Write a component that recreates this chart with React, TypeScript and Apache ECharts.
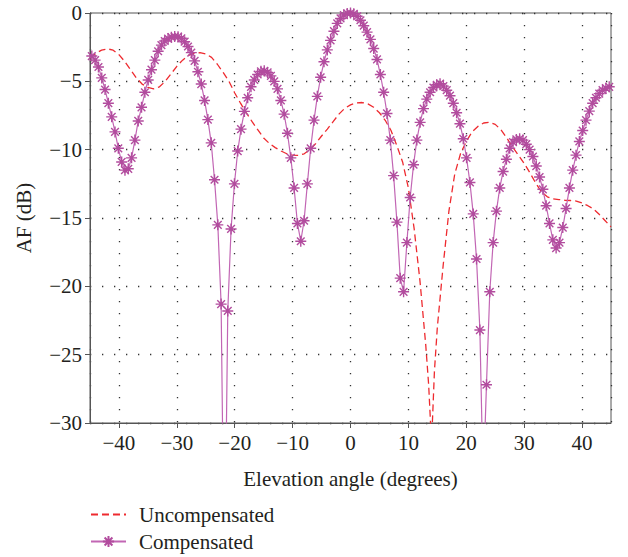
import React, { useEffect, useRef } from "react";
import * as echarts from "echarts";

// Sample angles (degrees) of the compensated pattern
const compAngles: number[] = [
  -44.69, -44.12, -43.54, -42.97, -42.40, -41.83, -41.25, -40.68, -40.11, -39.53,
  -38.96, -38.39, -37.82, -37.24, -36.67, -36.10, -35.52, -34.95, -34.38, -33.80,
  -33.23, -32.66, -32.09, -31.51, -30.94, -30.37, -29.79, -29.22, -28.65, -28.07,
  -27.50, -26.93, -26.36, -25.78, -25.21, -24.64, -24.06, -23.49, -22.92, -22.35,
  -21.77, -21.20, -20.63, -20.05, -19.48, -18.91, -18.33, -17.76, -17.19, -16.62,
  -16.04, -15.47, -14.90, -14.32, -13.75, -13.18, -12.61, -12.03, -11.46, -10.89,
  -10.31, -9.74, -9.17, -8.59, -8.02, -7.45, -6.88, -6.30, -5.73, -5.16,
  -4.58, -4.01, -3.44, -2.86, -2.29, -1.72, -1.15, -0.57,
  0,
  0.57, 1.15, 1.72, 2.29, 2.86, 3.44, 4.01, 4.58, 5.16, 5.73,
  6.30, 6.88, 7.45, 8.02, 8.59, 9.17, 9.74, 10.31, 10.89, 11.46,
  12.03, 12.61, 13.18, 13.75, 14.32, 14.90, 15.47, 16.04, 16.62, 17.19,
  17.76, 18.33, 18.91, 19.48, 20.05, 20.63, 21.20, 21.77, 22.35, 22.92,
  23.49, 24.06, 24.64, 25.21, 25.78, 26.36, 26.93, 27.50, 28.07, 28.65,
  29.22, 29.79, 30.37, 30.94, 31.51, 32.09, 32.66, 33.23, 33.80, 34.38,
  34.95, 35.52, 36.10, 36.67, 37.24, 37.82, 38.39, 38.96, 39.53, 40.11,
  40.68, 41.25, 41.83, 42.40, 42.97, 43.54, 44.12, 44.69,
];

// Compensated AF (dB)
const compDb: number[] = [
  -3.15, -3.45, -3.95, -4.75, -5.6, -6.6, -7.6, -8.7, -9.9, -10.9,
  -11.5, -11.4, -10.6, -9.3, -7.9, -6.9, -5.8, -4.9, -4.15, -3.45,
  -2.8, -2.35, -2.05, -1.87, -1.77, -1.72, -1.73, -1.85, -2.1, -2.45,
  -2.9, -3.5, -4.3, -5.2, -6.4, -7.8, -9.5, -12.2, -15.5, -21.3,
  -42.5, -21.8, -15.8, -12.5, -10.1, -8.5, -7.2, -6.2, -5.4, -4.9,
  -4.5, -4.27, -4.23, -4.35, -4.6, -5.0, -5.55, -6.4, -7.4, -8.8,
  -10.6, -12.8, -15.4, -16.7, -15.2, -12.5, -9.9, -7.84, -6.1, -4.7,
  -3.57, -2.7, -2.0, -1.33, -0.76, -0.4, -0.15, -0.03,
  0,
  -0.06, -0.24, -0.53, -0.93, -1.4, -1.93, -2.6, -3.4, -4.5, -5.8,
  -7.35, -9.3, -11.9, -15.3, -19.4, -20.4, -16.8, -13.5, -11.1, -9.3,
  -8.0, -7.0, -6.3, -5.8, -5.45, -5.25, -5.17, -5.35, -5.65, -6.05,
  -6.6, -7.3, -8.1, -9.2, -10.6, -12.4, -14.7, -18.0, -23.2, -34.5,
  -27.2, -20.4, -16.8, -14.5, -12.8, -11.6, -10.7, -9.9, -9.45, -9.25,
  -9.2, -9.3, -9.6, -10.0, -10.5, -11.2, -12.0, -12.9, -14.1, -15.4,
  -16.6, -17.2, -16.8, -15.7, -14.3, -12.8, -11.5, -10.4, -9.4, -8.6,
  -7.84, -7.18, -6.6, -6.2, -5.9, -5.65, -5.5, -5.4,
];

// Uncompensated pattern
const uncompAngles: number[] = [
  -45, -44, -43, -42, -41, -40, -39, -38, -37, -36,
  -35, -34, -33, -32, -31, -30, -29, -28, -27, -26,
  -25, -24, -23, -22, -21, -20, -19, -18, -17, -16,
  -15, -14, -13, -12, -11, -10, -9, -8, -7, -6,
  -5, -4, -3, -2, -1, 0, 1, 2, 3, 4,
  5, 6, 7, 8, 9, 10, 11, 12, 13, 13.5,
  14, 14.5, 15, 16, 17, 18, 19, 20, 21, 22,
  23, 24, 25, 26, 27, 28, 29, 30, 31, 32,
  33, 34, 35, 36, 37, 38, 39, 40, 41, 42,
  43, 44, 45,
];
const uncompDb: number[] = [
  -3.3, -2.95, -2.72, -2.62, -2.72, -3.05, -3.55, -4.15, -4.75, -5.2,
  -5.45, -5.55, -5.4, -5.0, -4.45, -3.9, -3.45, -3.1, -2.95, -2.9,
  -3.0, -3.25, -3.75, -4.35, -5.0, -5.85, -6.6, -7.3, -7.95, -8.55,
  -9.15, -9.55, -9.85, -10.1, -10.3, -10.4, -10.42, -10.3, -10.0, -9.55,
  -9.0, -8.5, -7.95, -7.4, -6.98, -6.72, -6.58, -6.55, -6.65, -6.9,
  -7.3, -7.85, -8.6, -9.7, -10.9, -12.8, -15.8, -19.6, -24.3, -27.2,
  -31.5, -26.2, -23.0, -18.5, -14.5, -11.8, -10.3, -9.4, -8.7, -8.3,
  -8.05, -8.0, -8.15, -8.55, -9.15, -9.8, -10.4, -11.0, -11.7, -12.45,
  -13.1, -13.45, -13.6, -13.65, -13.7, -13.72, -13.76, -13.9, -14.1, -14.35,
  -14.75, -15.2, -15.65,
];

const seriesNames = ["Uncompensated", "Compensated"];
const xAxisTitle = "Elevation angle (degrees)";
const yAxisTitle = "AF (dB)";

const FONT = "'Liberation Serif', 'Times New Roman', serif";
const TEXT = "#231f20";
const AXIS = "#555555";
const RED = "#ee2a2f";
const PURPLE_LINE = "#c266b4";
const PURPLE_MARK = "#b24c9e";
const ASTERISK = "path://M5,0L5,10M0,5L10,5M1.5,1.5L8.5,8.5M1.5,8.5L8.5,1.5";

const minusFmt = (v: number) => (v < 0 ? "\u2212" + Math.abs(v) : String(v));

export default function App() {
  const ref = useRef<HTMLDivElement>(null);
  useEffect(() => {
    if (!ref.current) return;
    const chart = echarts.init(ref.current, undefined, { renderer: "svg" });
    const option: any = {
      animation: false,
      backgroundColor: "#ffffff",
      grid: {
        left: 90,
        top: 13,
        width: 521,
        height: 410,
        show: true,
        borderColor: AXIS,
        borderWidth: 1,
        backgroundColor: "transparent",
        containLabel: false,
        outerBoundsMode: "none",
      },
      legend: {
        orient: "vertical",
        left: 90,
        top: 504,
        padding: 0,
        itemWidth: 35,
        itemHeight: 14,
        itemGap: 6,
        data: [
          {
            name: seriesNames[0],
            itemStyle: { color: "transparent", borderColor: "transparent", borderWidth: 0, opacity: 0 },
          },
          { name: seriesNames[1] },
        ],
        textStyle: {
          fontFamily: FONT,
          fontSize: 21,
          color: TEXT,
          lineHeight: 21,
          padding: [0, 0, 0, 8],
        },
      },
      xAxis: {
        type: "value",
        min: -45,
        max: 45,
        splitNumber: 9,
        name: xAxisTitle,
        nameLocation: "middle",
        nameGap: 45,
        nameTextStyle: { fontFamily: FONT, fontSize: 21, color: TEXT },
        axisLine: { show: true, onZero: false, lineStyle: { color: AXIS, width: 1 } },
        axisTick: { show: true, inside: false, length: 5, lineStyle: { color: AXIS, width: 1 } },
        axisLabel: {
          margin: 9,
          fontFamily: FONT,
          fontSize: 21,
          color: TEXT,
          showMinLabel: false,
          showMaxLabel: false,
          formatter: minusFmt,
        },
        splitLine: { show: true, lineStyle: { color: "#333", width: 1.3, type: [1.3, 10.7] } },
      },
      yAxis: {
        type: "value",
        min: -30,
        max: 0,
        interval: 5,
        name: yAxisTitle,
        nameLocation: "middle",
        nameGap: 56,
        nameTextStyle: { fontFamily: FONT, fontSize: 21, color: TEXT },
        axisLine: { show: true, onZero: false, lineStyle: { color: AXIS, width: 1 } },
        axisTick: { show: true, inside: false, length: 5, lineStyle: { color: AXIS, width: 1 } },
        axisLabel: { margin: 8, fontFamily: FONT, fontSize: 21, color: TEXT, formatter: minusFmt },
        splitLine: { show: true, lineStyle: { color: "#333", width: 1.3, type: [1.3, 10.7] } },
      },
      series: [
        {
          name: seriesNames[0],
          type: "line",
          data: uncompAngles.map((a, i) => [a, uncompDb[i]]),
          symbol: "none",
          showSymbol: false,
          clip: true,
          lineStyle: { color: RED, width: 1.3, type: [7, 4] },
          itemStyle: { color: RED },
          z: 2,
        },
        {
          name: seriesNames[1],
          type: "line",
          data: compAngles.map((a, i) => [a, compDb[i]]),
          symbol: ASTERISK,
          symbolSize: 11,
          showAllSymbol: true,
          clip: true,
          lineStyle: { color: PURPLE_LINE, width: 1.2 },
          itemStyle: { color: "none", borderColor: PURPLE_MARK, borderWidth: 1.4 },
          emphasis: { disabled: true },
          z: 3,
        },
      ],
    };
    chart.setOption(option);
    return () => chart.dispose();
  }, []);
  return (
    <div
      ref={ref}
      style={{ position: "fixed", left: 0, top: 0, width: 628, height: 557, background: "#fff" }}
    />
  );
}
